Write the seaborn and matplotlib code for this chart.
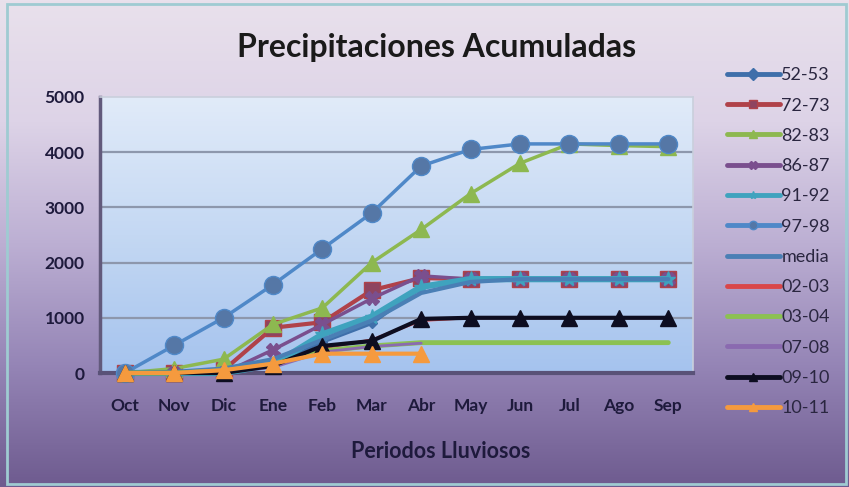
import numpy as np
import pandas as pd
import matplotlib
matplotlib.use("Agg")
import matplotlib.pyplot as plt
from matplotlib.lines import Line2D
from matplotlib.patches import Rectangle
from matplotlib.colors import LinearSegmentedColormap
import seaborn as sns

# ---- data: accumulated rainfall (mm) per rainy season ----
months = ["Oct", "Nov", "Dic", "Ene", "Feb", "Mar", "Abr", "May", "Jun", "Jul", "Ago", "Sep"]
s52_53 = [0, 0, 20, 180, 560, 900, 1550, 1700, 1700, 1700, 1700, 1700]
s72_73 = [0, 0, 50, 820, 920, 1500, 1720, 1700, 1700, 1700, 1700, 1700]
s82_83 = [0, 80, 250, 880, 1180, 2000, 2600, 3250, 3800, 4150, 4120, 4100]
s86_87 = [0, 0, 0, 420, 880, 1350, 1760, 1700, 1700, 1700, 1700, 1700]
s91_92 = [0, 0, 0, 150, 700, 1020, 1560, 1700, 1700, 1700, 1700, 1700]
s97_98 = [0, 500, 1000, 1600, 2250, 2900, 3750, 4050, 4150, 4150, 4150, 4150]
media = [0, 20, 80, 250, 600, 950, 1450, 1650, 1700, 1700, 1700, 1700]
s02_03 = [0, 0, 20, 120, 450, 600, 950, 1000, 1000, 1000, 1000, 1000]
s03_04 = [0, 0, 40, 150, 400, 490, 550, 550, 550, 550, 550, 550]
s07_08 = [0, 0, 10, 100, 380, 480, 540]
s09_10 = [0, 0, 0, 130, 490, 580, 980, 1000, 1000, 1000, 1000, 1000]
s10_11 = [0, 0, 50, 170, 350, 350, 350]

series_names = ["52-53", "72-73", "82-83", "86-87", "91-92", "97-98", "media",
                "02-03", "03-04", "07-08", "09-10", "10-11"]
series_values = [s52_53, s72_73, s82_83, s86_87, s91_92, s97_98, media,
                 s02_03, s03_04, s07_08, s09_10, s10_11]

rows = []
for name, vals in zip(series_names, series_values):
    for i, v in enumerate(vals):
        rows.append({"serie": name, "mes": i, "mm": v})
df = pd.DataFrame(rows)

# ---- styles per series: colour, line width, marker, marker size, marker face ----
styles = {
    "52-53": dict(color="#3F6FAA", lw=2.5, marker="D", ms=5, mfc="#3F6FAA"),
    "72-73": dict(color="#B0424A", lw=3.0, marker="s", ms=11, mfc="#8E4460"),
    "82-83": dict(color="#8DB850", lw=2.5, marker="^", ms=11, mfc="#8DB850"),
    "86-87": dict(color="#7A4F8E", lw=2.5, marker="X", ms=10, mfc="#7A4F8E"),
    "91-92": dict(color="#3FA3BE", lw=4.5, marker="*", ms=11, mfc="#3FA3BE"),
    "97-98": dict(color="#4F88C8", lw=2.5, marker="o", ms=13, mfc="#5577A6"),
    "media": dict(color="#4A7FB5", lw=3.0, marker=None, ms=0, mfc="#4A7FB5"),
    "02-03": dict(color="#D9474A", lw=2.0, marker=None, ms=0, mfc="#D9474A"),
    "03-04": dict(color="#8CC152", lw=3.5, marker=None, ms=0, mfc="#8CC152"),
    "07-08": dict(color="#8A6AB0", lw=2.0, marker=None, ms=0, mfc="#8A6AB0"),
    "09-10": dict(color="#0D0D20", lw=3.0, marker="^", ms=11, mfc="#0D0D20"),
    "10-11": dict(color="#F59A3E", lw=3.0, marker="^", ms=12, mfc="#F59A3E"),
}

sns.set_theme(style="white")
plt.rcParams["font.family"] = ["Lato", "DejaVu Sans"]

W, H = 849, 487
fig = plt.figure(figsize=(W / 100, H / 100), dpi=100)

# figure background gradient (lavender to purple)
bg = fig.add_axes([0, 0, 1, 1], zorder=-10)
bg_cmap = LinearSegmentedColormap.from_list(
    "bg", ["#E9E1EC", "#DDD3E7", "#BCAFD3", "#9585B6", "#6E5B8F"])
bg.imshow(np.linspace(0, 1, 256).reshape(-1, 1), aspect="auto", cmap=bg_cmap,
          extent=[0, 1, 0, 1])
bg.set_axis_off()
bg.add_patch(Rectangle((0.008, 0.006), 0.988, 0.986, transform=bg.transAxes,
                       fill=False, edgecolor="#9FCBD2", lw=2.0))

ax = fig.add_axes([100 / W, 1 - 373 / H, 593 / W, 276 / H])
ax.set_facecolor("none")

# plot-area gradient (pale blue at the top, sky blue at the bottom)
pa_cmap = LinearSegmentedColormap.from_list("pa", ["#E1EBF9", "#C4D8F3", "#A5C3EE"])
ax.imshow(np.linspace(0, 1, 256).reshape(-1, 1), aspect="auto", cmap=pa_cmap,
          extent=[-0.5, 11.5, 0, 5000], origin="upper", zorder=0)

for name in series_names:
    st = styles[name]
    sub = df[df["serie"] == name]
    sns.lineplot(data=sub, x="mes", y="mm", ax=ax, color=st["color"],
                 lw=st["lw"], marker=st["marker"], markersize=st["ms"],
                 markerfacecolor=st["mfc"], markeredgecolor=st["color"],
                 markeredgewidth=1.0, legend=False, zorder=3, clip_on=False)

ax.set_xlim(-0.5, 11.5)
ax.set_ylim(0, 5000)
ax.set_yticks([0, 1000, 2000, 3000, 4000, 5000])
ax.set_xticks(range(len(months)))
ax.set_xticklabels(months)
for y in [1000, 2000, 3000, 4000]:
    ax.axhline(y, color="#8D97AC", lw=1.6, zorder=1)

ax.tick_params(axis="both", length=0, labelsize=12.5, colors="#1E1A3C")
ax.tick_params(axis="y", pad=11)
ax.tick_params(axis="x", pad=18)
for lab in ax.get_xticklabels() + ax.get_yticklabels():
    lab.set_fontweight("bold")

ax.spines["left"].set_color("#625A7C")
ax.spines["left"].set_linewidth(2.5)
ax.spines["bottom"].set_color("#5A5278")
ax.spines["bottom"].set_linewidth(3)
ax.spines["top"].set_color("#C9CFDC")
ax.spines["top"].set_linewidth(1.2)
ax.spines["right"].set_color("#C9CFDC")
ax.spines["right"].set_linewidth(1.2)

ax.set_xlabel("Periodos Lluviosos", fontsize=15.5, fontweight="bold",
              color="#1E1A3C")
ax.xaxis.set_label_coords(0.574, -0.286)
ax.xaxis.label.set_va("center")
ax.set_ylabel("")

fig.text(437 / W, 1 - 48 / H, "Precipitaciones Acumuladas", ha="center",
         va="center", fontsize=23, fontweight="bold", color="#1A1A1A")

# legend
handles = []
for name in series_names:
    st = styles[name]
    handles.append(Line2D([0], [0], color=st["color"], lw=3.5,
                          marker=st["marker"] if st["marker"] else None,
                          markersize=6, markerfacecolor=st["mfc"],
                          markeredgecolor=st["color"]))
fig.legend(handles, series_names, loc="upper left",
           bbox_to_anchor=(711 / W, 1 - 51 / H), frameon=False,
           fontsize=13, handlelength=2.9, handletextpad=0.1,
           labelspacing=0.79, labelcolor="#2A2640")

fig.savefig("out.png", dpi=100)
